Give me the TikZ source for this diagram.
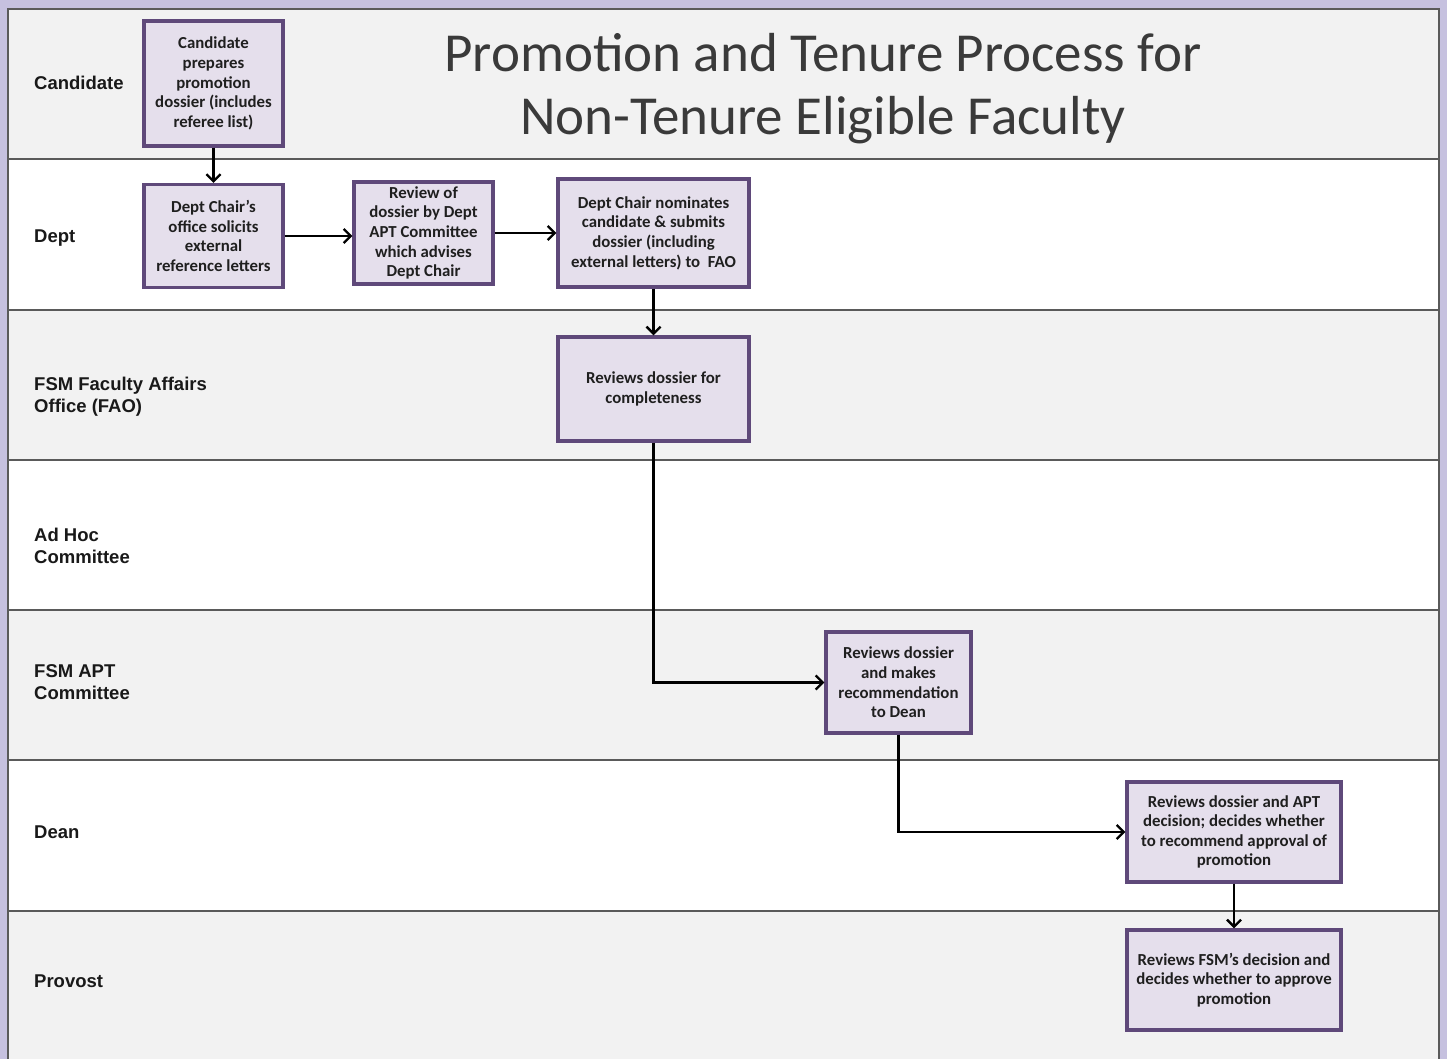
\documentclass[tikz,border=0pt]{standalone}
\usepackage{fontspec}
\setmainfont{Carlito}
\newfontfamily\lanefont{Liberation Sans}
\usetikzlibrary{arrows.meta}
\definecolor{frame}{HTML}{C6C1DF}
\definecolor{lanegrey}{HTML}{F2F2F2}
\definecolor{laneline}{HTML}{5A5A5A}
\definecolor{boxfill}{HTML}{E5DFEC}
\definecolor{boxborder}{HTML}{5F497A}
\definecolor{titlecol}{HTML}{3A3A3A}
\begin{document}
\begin{tikzpicture}[x=1pt,y=-1pt,
  box/.style={draw=boxborder, line width=3.2pt, fill=boxfill, align=center,
    font=\fontsize{16.8}{19.6}\selectfont\bfseries, text=black!88, inner sep=0pt},
  lanelabel/.style={anchor=west, align=left, inner sep=0pt, font=\lanefont\fontsize{18.5}{22}\selectfont\bfseries, text=black!90},
  conn/.style={draw=black, line width=2.4pt, -{Straight Barb[length=7pt,width=14pt]}},
  sep/.style={draw=laneline, line width=2.4pt}]
\useasboundingbox (0,0) rectangle (1447,1059);
\fill[frame] (0,0) rectangle (1447,1059);
% lanes
\fill[lanegrey] (8,9) rectangle (1439,159);
\fill[white] (8,159) rectangle (1439,310);
\fill[lanegrey] (8,310) rectangle (1439,460);
\fill[white] (8,460) rectangle (1439,610);
\fill[lanegrey] (8,610) rectangle (1439,760);
\fill[white] (8,760) rectangle (1439,911);
\fill[lanegrey] (8,911) rectangle (1439,1059);
\draw[sep] (8,1059) -- (8,9) -- (1439,9) -- (1439,1059);
\foreach \yy in {159,310,460,610,760,911} \draw[sep] (8,\yy) -- (1439,\yy);
% lane labels
\node[lanelabel] (lcand) at (34,83) {Candidate};
\node[lanelabel] (ldept) at (34,238) {Dept};
\node[lanelabel] (lfao) at (34,397) {FSM Faculty Affairs\\Office (FAO)};
\node[lanelabel] (ladhoc) at (34,546) {Ad Hoc\\Committee};
\node[lanelabel] (lapt) at (34,682) {FSM APT\\Committee};
\node[lanelabel] (ldean) at (34,832) {Dean};
\node[lanelabel] (lprov) at (34,981) {Provost};
% title
\node[font=\fontsize{55}{63}\selectfont, text=titlecol, align=center] (title) at (823,89)
  {Promotion and Tenure Process for\\Non-Tenure Eligible Faculty};
% boxes
\node[box, minimum width=139pt, minimum height=125pt] (c1) at (213.5,83.5)
  {Candidate\\prepares\\promotion\\dossier (includes\\referee list)};
\node[box, minimum width=139pt, minimum height=103pt] (c2) at (213.5,236)
  {Dept Chair’s\\office solicits\\external\\reference letters};
\node[box, minimum width=139pt, minimum height=102pt] (c3) at (423.5,233)
  {Review of\\dossier by Dept\\APT Committee\\which advises\\Dept Chair};
\node[box, minimum width=191pt, minimum height=108pt] (c4) at (653.5,233)
  {Dept Chair nominates\\candidate \& submits\\dossier (including\\external letters) to\ \ FAO};
\node[box, minimum width=191pt, minimum height=104pt] (c5) at (653.5,389)
  {Reviews dossier for\\completeness};
\node[box, minimum width=145pt, minimum height=101pt] (c6) at (898.5,682.5)
  {Reviews dossier\\and makes\\recommendation\\to Dean};
\node[box, minimum width=214pt, minimum height=100pt] (c7) at (1234,832)
  {Reviews dossier and APT\\decision; decides whether\\to recommend approval of\\promotion};
\node[box, minimum width=214pt, minimum height=100pt] (c8) at (1234,980)
  {Reviews FSM’s decision and\\decides whether to approve\\promotion};
% connectors
\draw[conn] (c1) -- (c2);
\draw[conn] (c2.east) -- (c2.east -| c3.west);
\draw[conn] (c3) -- (c4);
\draw[conn] (c4) -- (c5);
\draw[conn] (c5.south) |- (c6.west);
\draw[conn] (c6.south) |- (c7.west);
\draw[conn] (c7) -- (c8);
\end{tikzpicture}
\end{document}
